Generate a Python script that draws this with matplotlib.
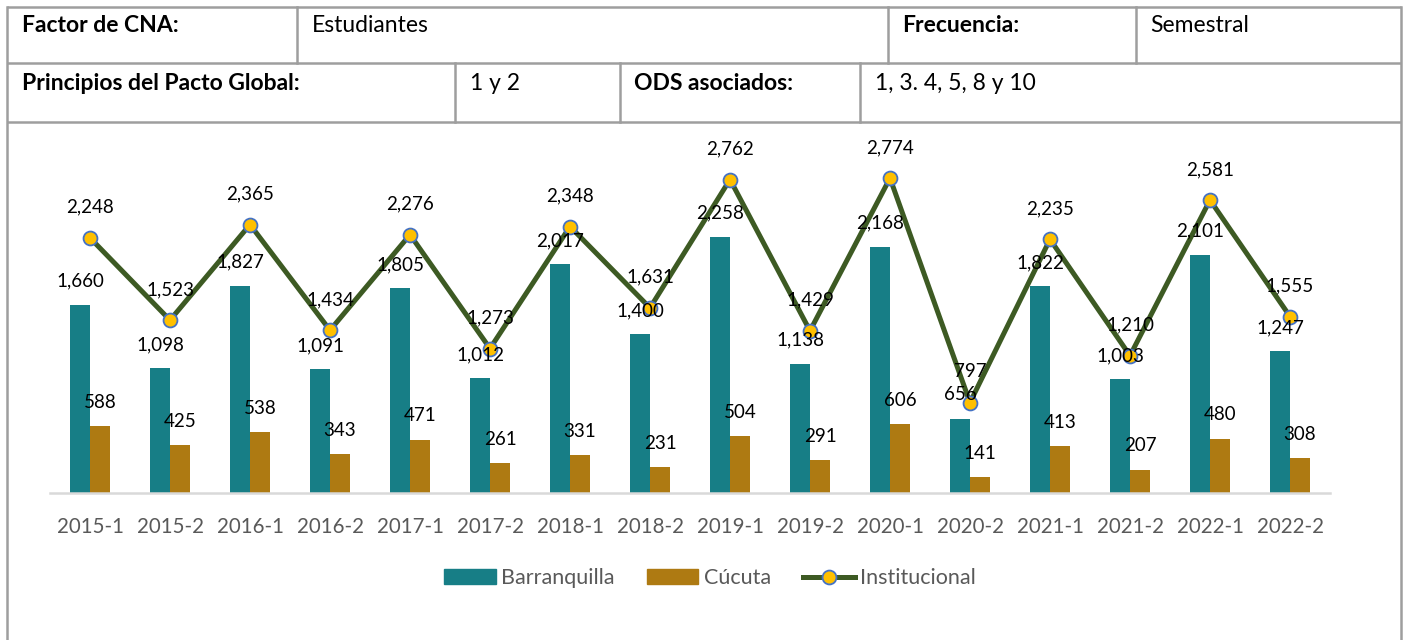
import numpy as np
import matplotlib.pyplot as plt
from matplotlib.patches import Patch
from matplotlib.lines import Line2D

plt.rcParams['font.family'] = ['Lato', 'DejaVu Sans']

# ---------------------------------------------------------------------------
# Data
# ---------------------------------------------------------------------------
periods = ["2015-1", "2015-2", "2016-1", "2016-2", "2017-1", "2017-2",
           "2018-1", "2018-2", "2019-1", "2019-2", "2020-1", "2020-2",
           "2021-1", "2021-2", "2022-1", "2022-2"]
barranquilla = [1660, 1098, 1827, 1091, 1805, 1012, 2017, 1400,
                2258, 1138, 2168, 656, 1822, 1003, 2101, 1247]
cucuta = [588, 425, 538, 343, 471, 261, 331, 231,
          504, 291, 606, 141, 413, 207, 480, 308]
institucional = [2248, 1523, 2365, 1434, 2276, 1273, 2348, 1631,
                 2762, 1429, 2774, 797, 2235, 1210, 2581, 1555]

header_row1 = [("Factor de CNA:", True), ("Estudiantes", False),
               ("Frecuencia:", True), ("Semestral", False)]
header_row2 = [("Principios del Pacto Global:", True), ("1 y 2", False),
               ("ODS asociados:", True), ("1, 3. 4, 5, 8 y 10", False)]

# colours
c_barr = "#177E86"
c_cuc = "#AE7A12"
c_line = "#3D5A23"
c_mark = "#FFC000"
c_edge = "#4472C4"
c_grid = "#9E9E9E"

W, H = 1407, 640
fig = plt.figure(figsize=(W / 100, H / 100), dpi=100)

# ---------------------------------------------------------------------------
# Table frame (pixel coordinates)
# ---------------------------------------------------------------------------
bg = fig.add_axes([0, 0, 1, 1])
bg.set_xlim(0, W)
bg.set_ylim(H, 0)
bg.axis("off")

lw_tab = 1.8
x_left, x_right = 7, 1401
y_top, y_mid, y_bot = 7, 63, 122
for y in (y_top, y_mid, y_bot):
    bg.plot([x_left, x_right], [y, y], color=c_grid, lw=lw_tab, solid_capstyle="butt")
bg.plot([x_left, x_left], [y_top, H], color=c_grid, lw=lw_tab)
bg.plot([x_right, x_right], [y_top, H], color=c_grid, lw=lw_tab)
for x in (297, 888, 1136):
    bg.plot([x, x], [y_top, y_mid], color=c_grid, lw=lw_tab)
for x in (455, 620, 860):
    bg.plot([x, x], [y_mid, y_bot], color=c_grid, lw=lw_tab)

for (txt, bold), x in zip(header_row1, (22, 312, 902, 1150)):
    bg.text(x, 26, txt, fontsize=16.5, fontweight="bold" if bold else "normal",
            color="black", va="center", ha="left")
for (txt, bold), x in zip(header_row2, (22, 470, 634, 875)):
    bg.text(x, 84, txt, fontsize=16.5, fontweight="bold" if bold else "normal",
            color="black", va="center", ha="left")

# ---------------------------------------------------------------------------
# Chart
# ---------------------------------------------------------------------------
ymax = 3100
px_per_unit = 0.1135
ax_bottom = 493
ax_h = ymax * px_per_unit
ax = fig.add_axes([50 / W, (H - ax_bottom) / H, 1280 / W, ax_h / H])

x = np.arange(len(periods))
bw = 0.25
ax.bar(x - bw / 2, barranquilla, bw, color=c_barr, label="Barranquilla", zorder=2)
ax.bar(x + bw / 2, cucuta, bw, color=c_cuc, label="Cúcuta", zorder=2)
ax.plot(x, institucional, color=c_line, lw=3.6, marker="o", markersize=10,
        markerfacecolor=c_mark, markeredgecolor=c_edge, markeredgewidth=1.3,
        label="Institucional", zorder=4)

for xi, v in zip(x, barranquilla):
    ax.annotate(f"{v:,}", (xi - bw / 2, v), xytext=(0, 17), textcoords="offset points",
                ha="center", va="center", fontsize=13.5, color="black", zorder=5)
for xi, v in zip(x, cucuta):
    ax.annotate(f"{v:,}", (xi + bw / 2, v), xytext=(0, 17), textcoords="offset points",
                ha="center", va="center", fontsize=13.5, color="black", zorder=5)
for xi, v in zip(x, institucional):
    ax.annotate(f"{v:,}", (xi, v), xytext=(0, 22), textcoords="offset points",
                ha="center", va="center", fontsize=13.5, color="black", zorder=5)

ax.set_xlim(-0.5, len(periods) - 0.5)
ax.set_ylim(0, ymax)
ax.set_xticks(x)
ax.set_xticklabels(periods, fontsize=14.8, color="#595959")
ax.tick_params(axis="x", length=0, pad=17)
ax.set_yticks([])
for s in ("top", "right", "left"):
    ax.spines[s].set_visible(False)
ax.spines["bottom"].set_color("#D9D9D9")
ax.spines["bottom"].set_linewidth(1.8)
ax.patch.set_alpha(0)

handles = [Patch(color=c_barr, label="Barranquilla"),
           Patch(color=c_cuc, label="Cúcuta"),
           Line2D([0], [0], color=c_line, lw=3.6, marker="o", markersize=10,
                  markerfacecolor=c_mark, markeredgecolor=c_edge, markeredgewidth=1.3,
                  label="Institucional")]
leg = fig.legend(handles=handles, loc="center", bbox_to_anchor=(710 / W, 1 - 578 / H),
                 ncol=3, frameon=False, fontsize=15.5, handlelength=2.4,
                 handleheight=0.65, handletextpad=0.25, columnspacing=1.5)
for t in leg.get_texts():
    t.set_color("#595959")

fig.savefig("out.png", dpi=100)
